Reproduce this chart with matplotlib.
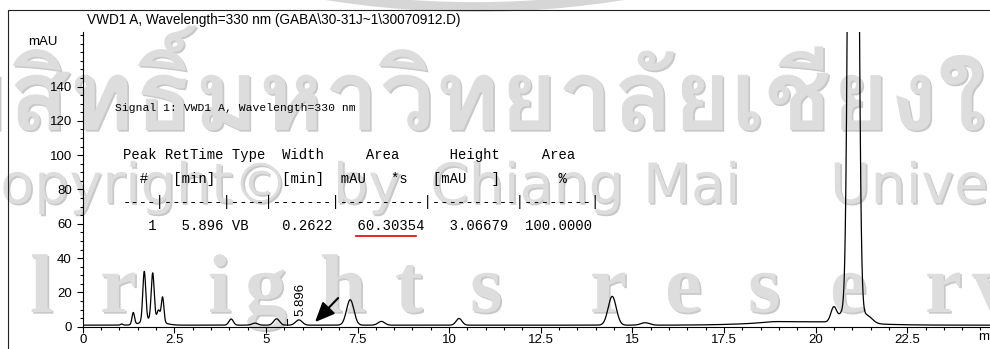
import numpy as np
import matplotlib
matplotlib.use("Agg")
import matplotlib.pyplot as plt
import matplotlib.patheffects as pe
from matplotlib.lines import Line2D
from matplotlib.patches import Ellipse
from matplotlib import font_manager
from matplotlib.ft2font import FT2Font

W, H = 990, 349

# peaks: retention time (min), height over baseline (mAU), sigma (min)
peak_rt     = [1.06, 1.38, 1.68, 1.91, 1.90, 2.07, 2.18, 4.05, 4.70, 5.29, 5.90, 7.30, 8.15, 10.27,
               14.45, 15.35, 18.85, 19.80, 20.50, 20.72, 21.03, 21.38]
peak_height = [0.7, 7.0, 29.0, 27.0, 3.5, 6.0, 14.5, 3.6, 1.2, 3.7, 3.07, 14.8, 2.2, 3.9,
               16.8, 1.4, 0.5, 2.0, 9.0, 5.0, 1000.0, 5.0]
peak_sigma  = [0.03, 0.035, 0.04, 0.04, 0.25, 0.04, 0.035, 0.06, 0.08, 0.08, 0.09, 0.10, 0.09, 0.08,
               0.11, 0.12, 0.30, 1.30, 0.08, 0.08, 0.09, 0.15]
baseline = 0.9

x_ticks = [0, 2.5, 5, 7.5, 10, 12.5, 15, 17.5, 20, 22.5]
x_labels = ["0", "2.5", "5", "7.5", "10", "12.5", "15", "17.5", "20", "22.5"]
y_ticks = [0, 20, 40, 60, 80, 100, 120, 140]

title = r"VWD1 A, Wavelength=330 nm (GABA\30-31J~1\30070912.D)"
signal_line = "Signal 1: VWD1 A, Wavelength=330 nm"
report_rows = [
    "Peak RetTime Type  Width     Area      Height     Area",
    "  #   [min]        [min]  mAU   *s   [mAU   ]       %",
    "----|-------|----|-------|----------|----------|--------|",
    "   1   5.896 VB    0.2622   60.30354   3.06679  100.0000",
]
marked_rt = 5.896


def find_font(ch):
    for f in font_manager.fontManager.ttflist:
        try:
            if ord(ch) in FT2Font(f.fname).get_charmap():
                return f.name
        except Exception:
            pass
    return None


def fx(px):
    return px / W


def fy(py):
    return 1 - py / H


t = np.linspace(0, 24.8, 6000)
signal = np.full_like(t, baseline)
for rt, h, s in zip(peak_rt, peak_height, peak_sigma):
    signal += h * np.exp(-0.5 * ((t - rt) / s) ** 2)

fig = plt.figure(figsize=(W / 100, H / 100), dpi=100)
fig.patch.set_facecolor("white")

# watermark behind everything
wm = dict(color="#dddddd", zorder=-5,
          path_effects=[pe.SimplePatchShadow(offset=(1.2, -1.2), shadow_rgbFace="#c8c8c8", alpha=1.0), pe.Normal()])
thai_font = find_font("\u0e2a")
if thai_font:
    fig.text(fx(-119), fy(130), "ลิขสิทธิ์มหาวิทยาลัยเชียงใหม่", fontsize=71, family=[thai_font],
             fontweight="bold", va="baseline", ha="left", **wm)
for word, x in [("Copyright©", 288), ("by", 333), ("Chiang", 430), ("Mai", 643), ("University", 830)]:
    fig.text(fx(x), fy(203), word, fontsize=40, family="DejaVu Sans", va="baseline",
             ha="right" if word == "Copyright©" else "left", **wm)
for ch, x in [("l", 30), ("r", 100), ("i", 208), ("g", 245), ("h", 320), ("t", 395), ("s", 470),
              ("r", 590), ("e", 665), ("s", 748), ("e", 830), ("r", 925), ("v", 972)]:
    fig.text(fx(x), fy(312), ch, fontsize=60, family="Liberation Serif", fontweight="bold",
             va="baseline", ha="left", **wm)
R = 943
fig.add_artist(Ellipse((fx(475), fy(7 - R)), 2 * R / W, 2 * R / H, fill=False, lw=7,
                       edgecolor="#d6d6d6", transform=fig.transFigure, zorder=-6))

# outer frame
fig.add_artist(Line2D([fx(8), fx(8), 1.01], [-0.01, fy(10), fy(10)], transform=fig.transFigure,
                      color="#222222", lw=0.8))

ax = fig.add_axes([fx(82.7), fy(326.7), 1 - fx(82.7), (326.7 - 32) / H])
ax.patch.set_visible(False)
ax.plot(t, signal, color="black", lw=0.9, clip_on=True)
ax.set_xlim(0, 24.76)
ax.set_ylim(0, 171.8)
for s in ["top", "right"]:
    ax.spines[s].set_visible(False)
for s in ["left", "bottom"]:
    ax.spines[s].set_linewidth(0.8)

ax.set_xticks(x_ticks)
ax.set_xticklabels(x_labels)
ax.set_xticks(np.arange(0, 24.76, 0.5), minor=True)
ax.set_yticks(y_ticks)
ax.set_yticks(np.arange(0, 172, 5), minor=True)
ax.tick_params(axis="both", which="major", length=4.3, width=0.8, labelsize=9.5, direction="out")
ax.tick_params(axis="both", which="minor", length=2.2, width=0.8, direction="out")
ax.tick_params(axis="x", pad=1)
ax.tick_params(axis="y", pad=3.5)
for lbl in ax.get_xticklabels() + ax.get_yticklabels():
    lbl.set_family("Liberation Sans")

ax.text(24.45, -2.5, "min", fontsize=9.5, family="Liberation Sans", ha="left", va="top", clip_on=False)
fig.text(fx(58), fy(42), "mAU", fontsize=9.5, family="Liberation Sans", ha="right", va="center")
fig.text(fx(87), fy(20), title, fontsize=9.8, family="Liberation Sans", ha="left", va="center")

# peak marker, retention time label and arrow
ax.plot([5.57, 5.57], [baseline, 4.5], color="black", lw=0.8)
ax.text(marked_rt + 0.04, 6.5, f"{marked_rt:.3f}", rotation=90, fontsize=9.5, family="Liberation Sans",
        ha="center", va="bottom")
ax.annotate("", xy=(6.34, 2.7), xytext=(6.97, 16.7),
            arrowprops=dict(arrowstyle="-|>,head_length=0.8,head_width=0.35", color="black", lw=1.5,
                            mutation_scale=15, shrinkA=0, shrinkB=0))

# integration report
mono = dict(family="Liberation Mono", ha="left", va="center", color="black")
fig.text(fx(115), fy(108), signal_line, fontsize=8.2, **mono)
for i, row in enumerate(report_rows):
    fig.text(fx(123), fy(155 + 23.7 * i), row, fontsize=10, **mono)
fig.add_artist(Line2D([fx(356), fx(416)], [fy(236), fy(236)], transform=fig.transFigure,
                      color="#e00000", lw=1.2))

fig.savefig("out.png", dpi=100)
